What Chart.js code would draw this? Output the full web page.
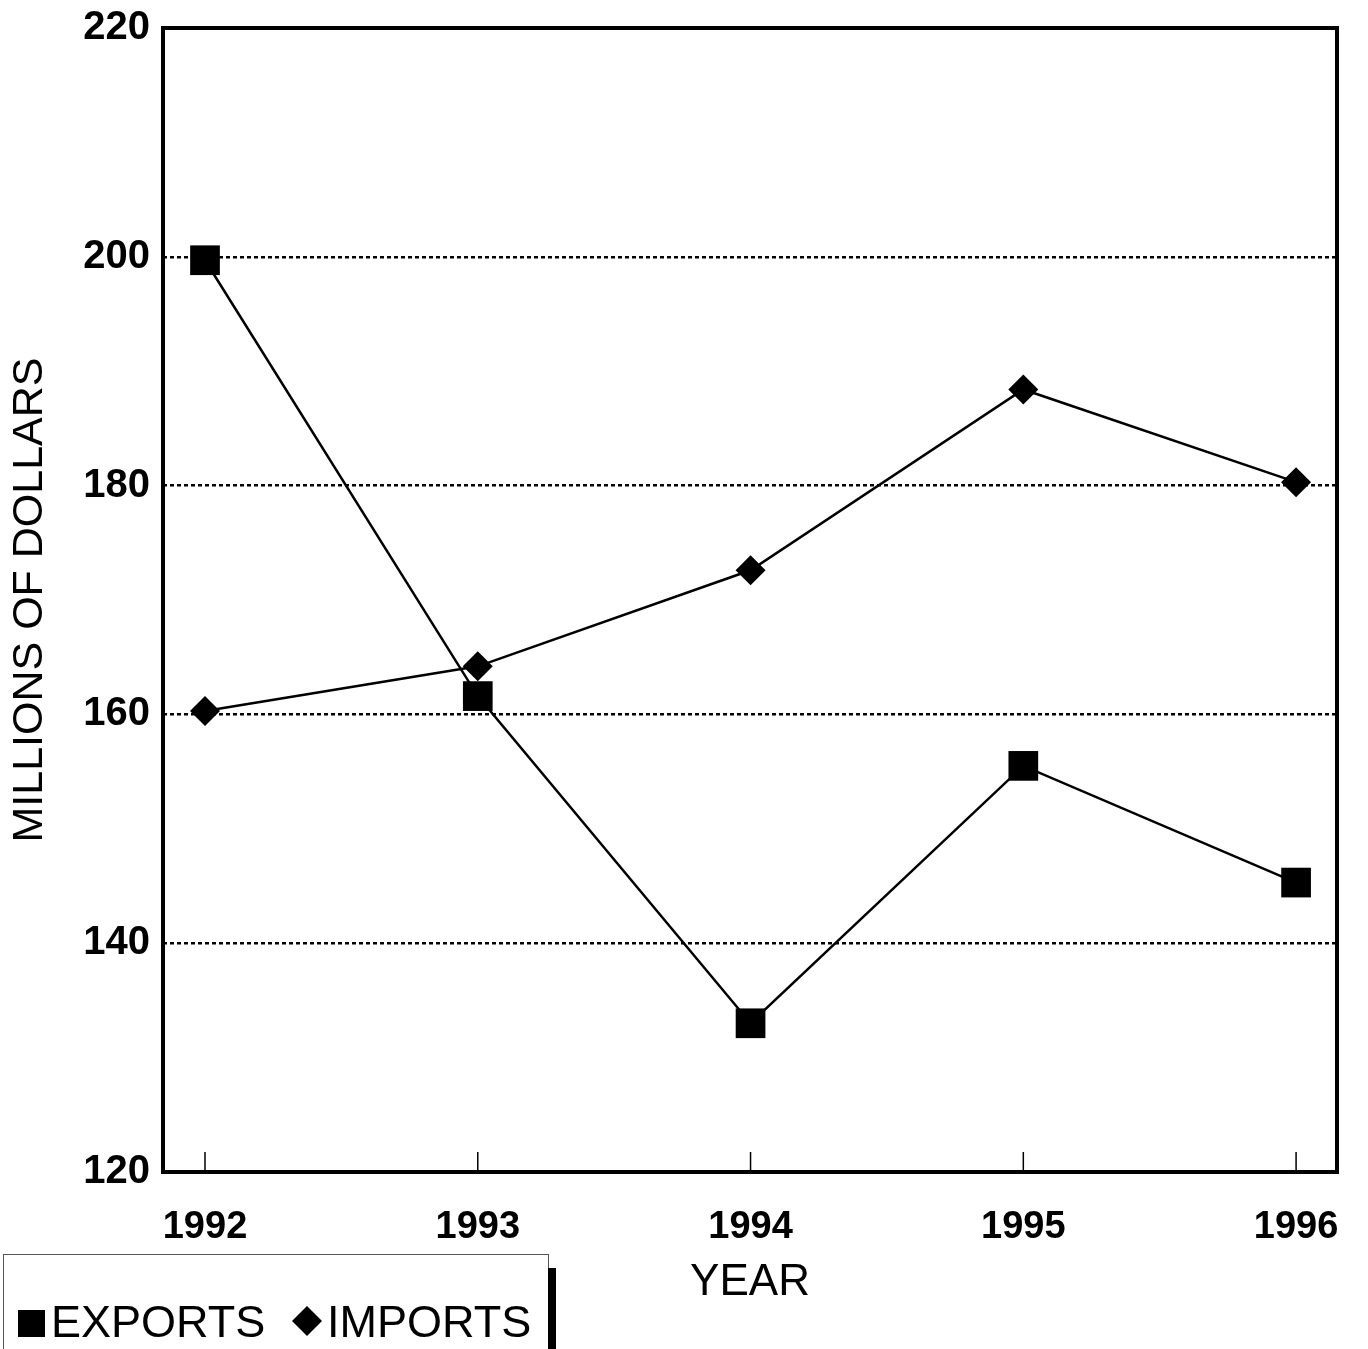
<!DOCTYPE html>
<html>
<head>
<meta charset="utf-8">
<script src="https://cdn.jsdelivr.net/npm/chart.js@4.4.1/dist/chart.umd.min.js"></script>
<style>
  body { margin: 0; background: #fff; }
  canvas { display: block; }
</style>
</head>
<body>
<canvas id="myChart" width="1368" height="1349"></canvas>
<script>
// data
const years = [1992, 1993, 1994, 1995, 1996];
const exportsData = [199.7, 161.6, 133.0, 155.5, 145.3];
const importsData = [160.3, 164.2, 172.6, 188.4, 180.3];
const yTicks = [120, 140, 160, 180, 200, 220];

const FONT = '"Liberation Sans", Arial, sans-serif';

// box round the plot, small inside ticks at each year, and the legend
const framePlugin = {
    id: 'frame',
    afterDraw(chart) {
        const ctx = chart.ctx;
        const a = chart.chartArea;
        const xs = chart.scales.x;
        ctx.save();
        ctx.strokeStyle = '#000';

        ctx.lineWidth = 1.5;
        years.forEach(y => {
            const px = xs.getPixelForValue(y);
            ctx.beginPath();
            ctx.moveTo(px, a.bottom);
            ctx.lineTo(px, a.bottom - 20);
            ctx.stroke();
        });

        ctx.lineWidth = 4;
        ctx.strokeRect(a.left, a.top, a.right - a.left, a.bottom - a.top);

        // legend
        ctx.lineWidth = 1;
        ctx.strokeStyle = '#555';
        ctx.strokeRect(3.5, 1254.5, 545, 110);
        ctx.fillStyle = '#000';
        ctx.fillRect(548, 1268, 8, 90);

        ctx.font = '45px ' + FONT;
        ctx.textBaseline = 'alphabetic';
        ctx.fillRect(18, 1310, 27, 27);
        ctx.fillText(chart.data.datasets[0].label, 51, 1337);
        ctx.beginPath();
        ctx.moveTo(307, 1306);
        ctx.lineTo(322, 1321);
        ctx.lineTo(307, 1336);
        ctx.lineTo(292, 1321);
        ctx.closePath();
        ctx.fill();
        ctx.fillText(chart.data.datasets[1].label, 327, 1337);
        ctx.restore();
    }
};

new Chart(document.getElementById('myChart'), {
    type: 'line',
    data: {
        datasets: [{
            label: 'EXPORTS',
            data: years.map((y, i) => ({ x: y, y: exportsData[i] })),
            borderColor: '#000',
            backgroundColor: '#000',
            borderWidth: 2.5,
            pointStyle: 'rect',
            pointRadius: 21,
            pointBorderWidth: 0
        }, {
            label: 'IMPORTS',
            data: years.map((y, i) => ({ x: y, y: importsData[i] })),
            borderColor: '#000',
            backgroundColor: '#000',
            borderWidth: 2.5,
            pointStyle: 'rectRot',
            pointRadius: 15,
            pointBorderWidth: 0
        }]
    },
    options: {
        responsive: false,
        animation: false,
        layout: { padding: { top: 28, right: 31, left: 0, bottom: 0 } },
        plugins: {
            legend: { display: false },
            tooltip: { enabled: false }
        },
        scales: {
            x: {
                type: 'linear',
                min: 1991.846,
                max: 1996.15,
                afterBuildTicks: s => { s.ticks = years.map(v => ({ value: v })); },
                afterFit: s => {
                    s.height = 177;
                    s.paddingLeft = 0; s.paddingRight = 0;
                },
                grid: { display: false, drawTicks: false },
                border: { display: false },
                ticks: {
                    color: '#000',
                    padding: 33,
                    maxRotation: 0,
                    font: { family: FONT, size: 38, weight: 'bold' },
                    callback: v => String(v)
                },
                title: {
                    display: true,
                    text: 'YEAR',
                    color: '#000',
                    font: { family: FONT, size: 44 },
                    padding: { top: 0, bottom: 40 }
                }
            },
            y: {
                min: 120,
                max: 220,
                afterBuildTicks: s => { s.ticks = yTicks.map(v => ({ value: v })); },
                afterFit: s => {
                    s.width = 163;
                    s.paddingTop = 0; s.paddingBottom = 0;
                },
                grid: {
                    drawTicks: false,
                    lineWidth: 2.5,
                    color: c => (c.tick && (c.tick.value === 120 || c.tick.value === 220)) ? 'rgba(0,0,0,0)' : '#000'
                },
                border: { display: false, dash: [4, 3] },
                ticks: {
                    color: '#000',
                    padding: 13,
                    font: { family: FONT, size: 40, weight: 'bold' }
                },
                title: {
                    display: true,
                    text: 'MILLIONS OF DOLLARS',
                    color: '#000',
                    font: { family: FONT, size: 43 },
                    padding: { top: 4, bottom: 0 }
                }
            }
        }
    },
    plugins: [framePlugin]
});
</script>
</body>
</html>
